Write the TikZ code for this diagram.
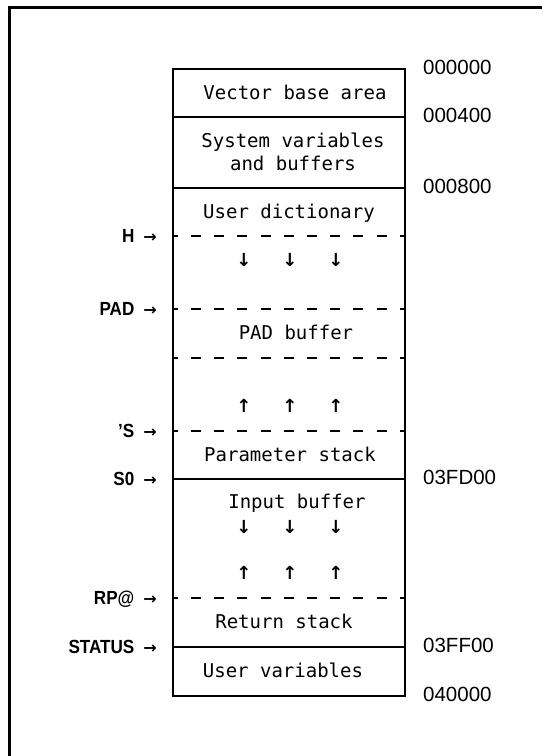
\documentclass[tikz,border=0pt]{standalone}
\usepackage{fontspec}
\setmainfont{Liberation Sans}
\setmonofont{DejaVu Sans Mono}
\newfontfamily\ptrfont{Liberation Sans}[FakeStretch=0.9]
\newfontfamily\arrowfont{DejaVu Sans}
\newcommand{\toarrow}{{\arrowfont\bfseries\fontsize{16}{18}\selectfont →}}

\begin{document}
\begin{tikzpicture}[
    x=1pt, y=-1pt,
    area/.style={font=\ttfamily\fontsize{19}{23}\selectfont,
                 inner sep=0pt, align=center},
    growdir/.style={font=\arrowfont\bfseries\fontsize{18}{20}\selectfont,
                    inner sep=0pt},
    ptr/.style={font=\ptrfont\bfseries\fontsize{19}{22}\selectfont,
                inner sep=0pt, anchor=base east},
    addr/.style={font=\fontsize{20.5}{24}\selectfont,
                 inner sep=0pt, anchor=base west},
    wall/.style={line width=1.4pt},
    brk/.style={wall, dash pattern=on 10pt off 13.2pt, dash phase=5.2pt},
]
\useasboundingbox (0,0) rectangle (542,756);

% page frame
\draw[line width=3pt] (9,756) -- (9,7) -- (542,7);

% memory block
\draw[wall] (173,69) rectangle (405,696);
\foreach \y in {117,188,479,647}
    \draw[wall] (173,\y) -- (405,\y);
\foreach \y in {236,309,358,431,598}
    \draw[brk] (173,\y) -- (405,\y);

% areas
\node[area, anchor=base] (vba) at (295,99) {Vector base area};
\node[area] (sysv) at (293,151.5) {System variables\\and buffers};
\node[area, anchor=base] (udict) at (289,218) {User dictionary};
\node[area, anchor=base] (padbuf) at (296,339) {PAD buffer};
\node[area, anchor=base] (pstack) at (290,461) {Parameter stack};
\node[area, anchor=base] (inbuf) at (297,508) {Input buffer};
\node[area, anchor=base] (rstack) at (284,628) {Return stack};
\node[area, anchor=base] (uvars) at (283,677) {User variables};

% growth directions
\foreach \x [count=\i] in {244,290,336} {
    \node[growdir] (dictdn\i) at (\x,260) {↓};
    \node[growdir] (pstkup\i) at (\x,406) {↑};
    \node[growdir] (inbdn\i) at (\x,527) {↓};
    \node[growdir] (rstkup\i) at (\x,573) {↑};
}

% pointers
\foreach \y/\txt/\nm in {236/H/h, 309/PAD/pad, 431/’S/tick,
                         479/S0/szero, 598/RP@/rpat, 647/STATUS/status}
    \node[ptr] (ptr-\nm) at (157,\y+6.5) {\txt\hspace{9pt}\toarrow};

% addresses
\foreach \y/\txt in {69/000000, 117/000400, 188/000800,
                     479/03FD00, 647/03FF00, 696/040000}
    \node[addr] (adr-\txt) at (423,\y+5.3) {\txt};

\end{tikzpicture}
\end{document}
